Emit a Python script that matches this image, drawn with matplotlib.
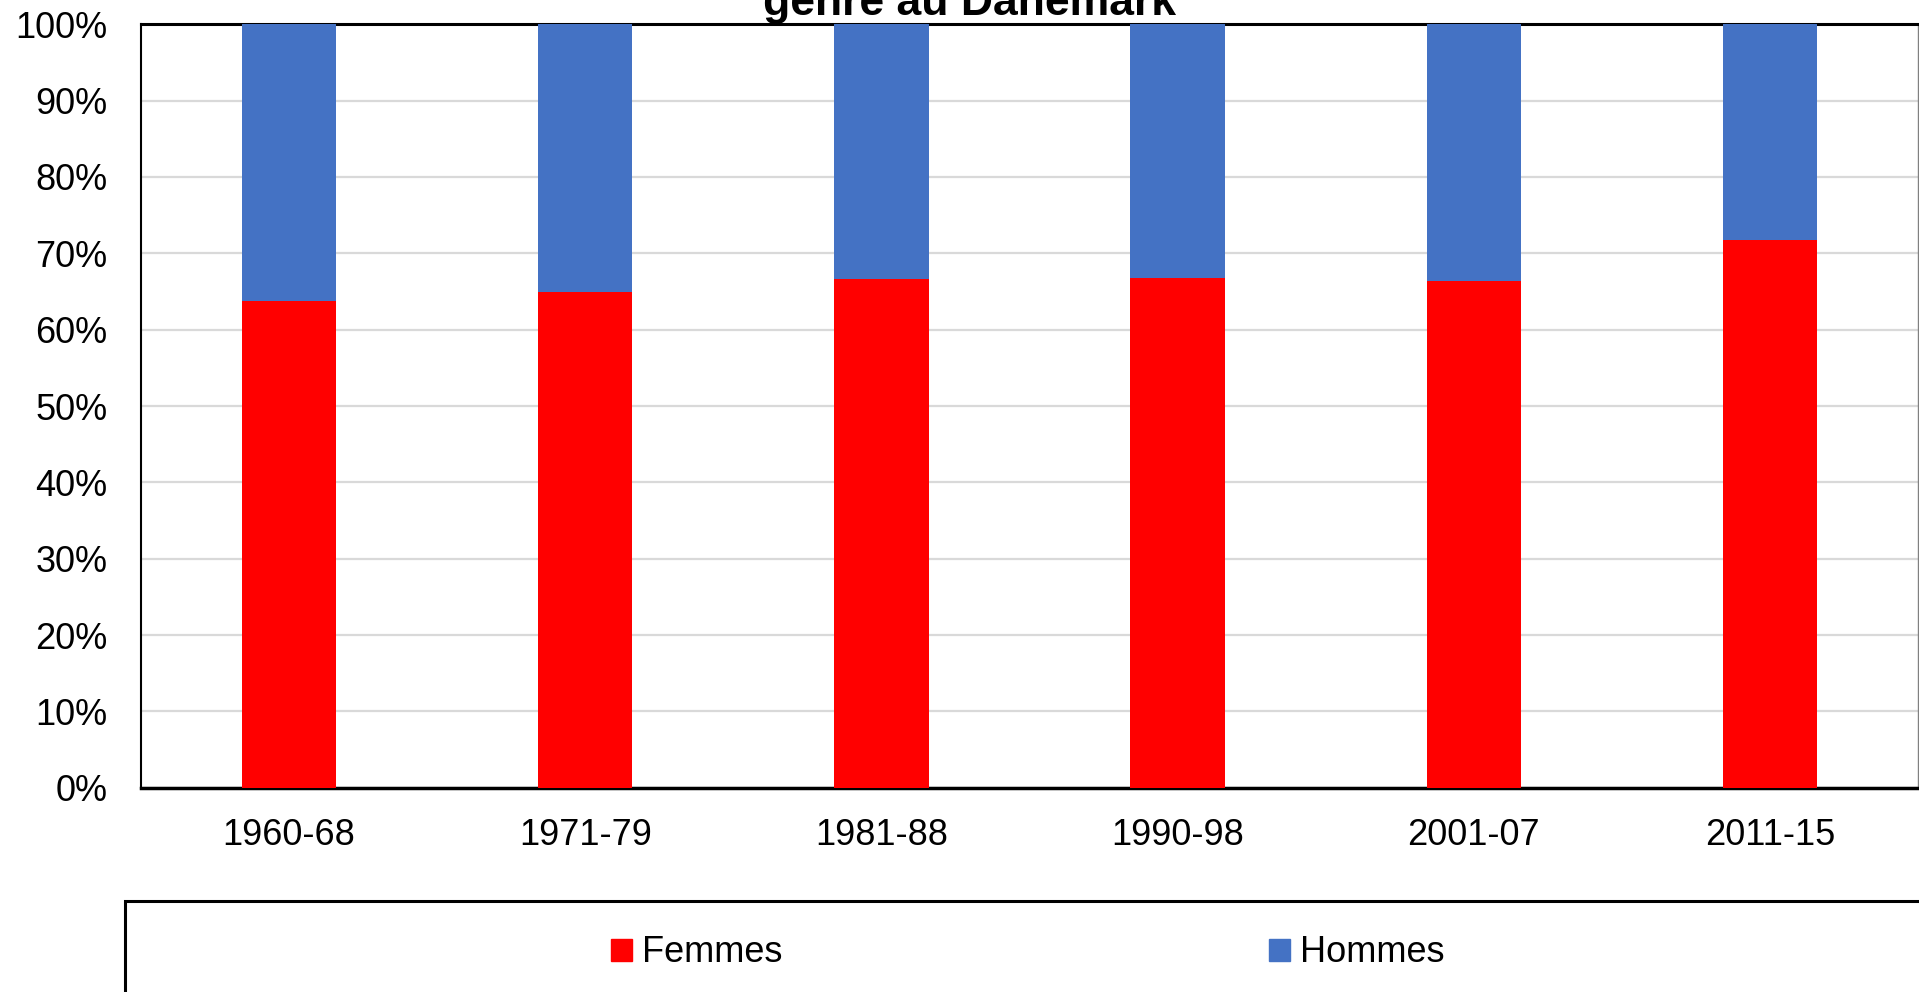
import matplotlib.pyplot as plt
from matplotlib.patches import Rectangle, Patch
import numpy as np

# data (share of women, %)
periods = ["1960-68", "1971-79", "1981-88", "1990-98", "2001-07", "2011-15"]
femmes = [63.75, 64.97, 66.64, 66.8, 66.37, 71.73]
hommes = [100 - f for f in femmes]
yticks = [0, 10, 20, 30, 40, 50, 60, 70, 80, 90, 100]

red = "#FF0000"
blue = "#4472C4"

plt.rcParams['font.family'] = ['Liberation Sans', 'DejaVu Sans']

fig = plt.figure(figsize=(19.19, 9.92), dpi=100)
ax = fig.add_axes([141 / 1919, 1 - 787.7 / 992, (1918 - 141) / 1919, (787.7 - 24.3) / 992])

x = np.arange(len(periods))
ax.bar(x, femmes, width=0.318, color=red, label="Femmes", zorder=3)
ax.bar(x, hommes, width=0.318, bottom=femmes, color=blue, label="Hommes", zorder=3)

ax.set_xlim(-0.5, len(periods) - 0.5)
ax.set_ylim(0, 100)
ax.set_yticks(yticks)
ax.set_yticklabels([f"{v}%" for v in yticks])
ax.set_xticks(x)
ax.set_xticklabels(periods)
ax.tick_params(axis='y', length=0, pad=24, labelsize=26)
ax.tick_params(axis='x', length=0, pad=22, labelsize=26)
ax.yaxis.grid(True, color="#D9D9D9", linewidth=1.6, zorder=0)
ax.set_axisbelow(True)

for side in ['left', 'top', 'bottom']:
    ax.spines[side].set_color('black')
ax.spines['left'].set_linewidth(1.5)
ax.spines['top'].set_linewidth(2.2)
ax.spines['bottom'].set_linewidth(2.5)
ax.spines['right'].set_color('#808080')
ax.spines['right'].set_linewidth(1)

# title, mostly cut off at the top of the image
fig.text(969 / 1919, 1 - 15 / 992, "genre au Danemark", ha='center', va='baseline',
         fontsize=32, fontweight='bold')

# legend box running off the bottom-right edge
fig.patches.append(Rectangle((125 / 1919, -0.1), 1.2, (1 - 901 / 992) + 0.1,
                             transform=fig.transFigure, fill=False,
                             edgecolor='black', linewidth=2.2, clip_on=False))
handles = [Patch(color=red), Patch(color=blue)]
fig.legend(handles, ["Femmes", "Hommes"], loc='center', ncol=2,
           bbox_to_anchor=(1027.8 / 1919, 1 - 953 / 992), frameon=False,
           fontsize=26, handlelength=0.56, handleheight=0.57,
           handletextpad=0.28, columnspacing=13.5, borderpad=0)

fig.savefig("out.png", dpi=100)
